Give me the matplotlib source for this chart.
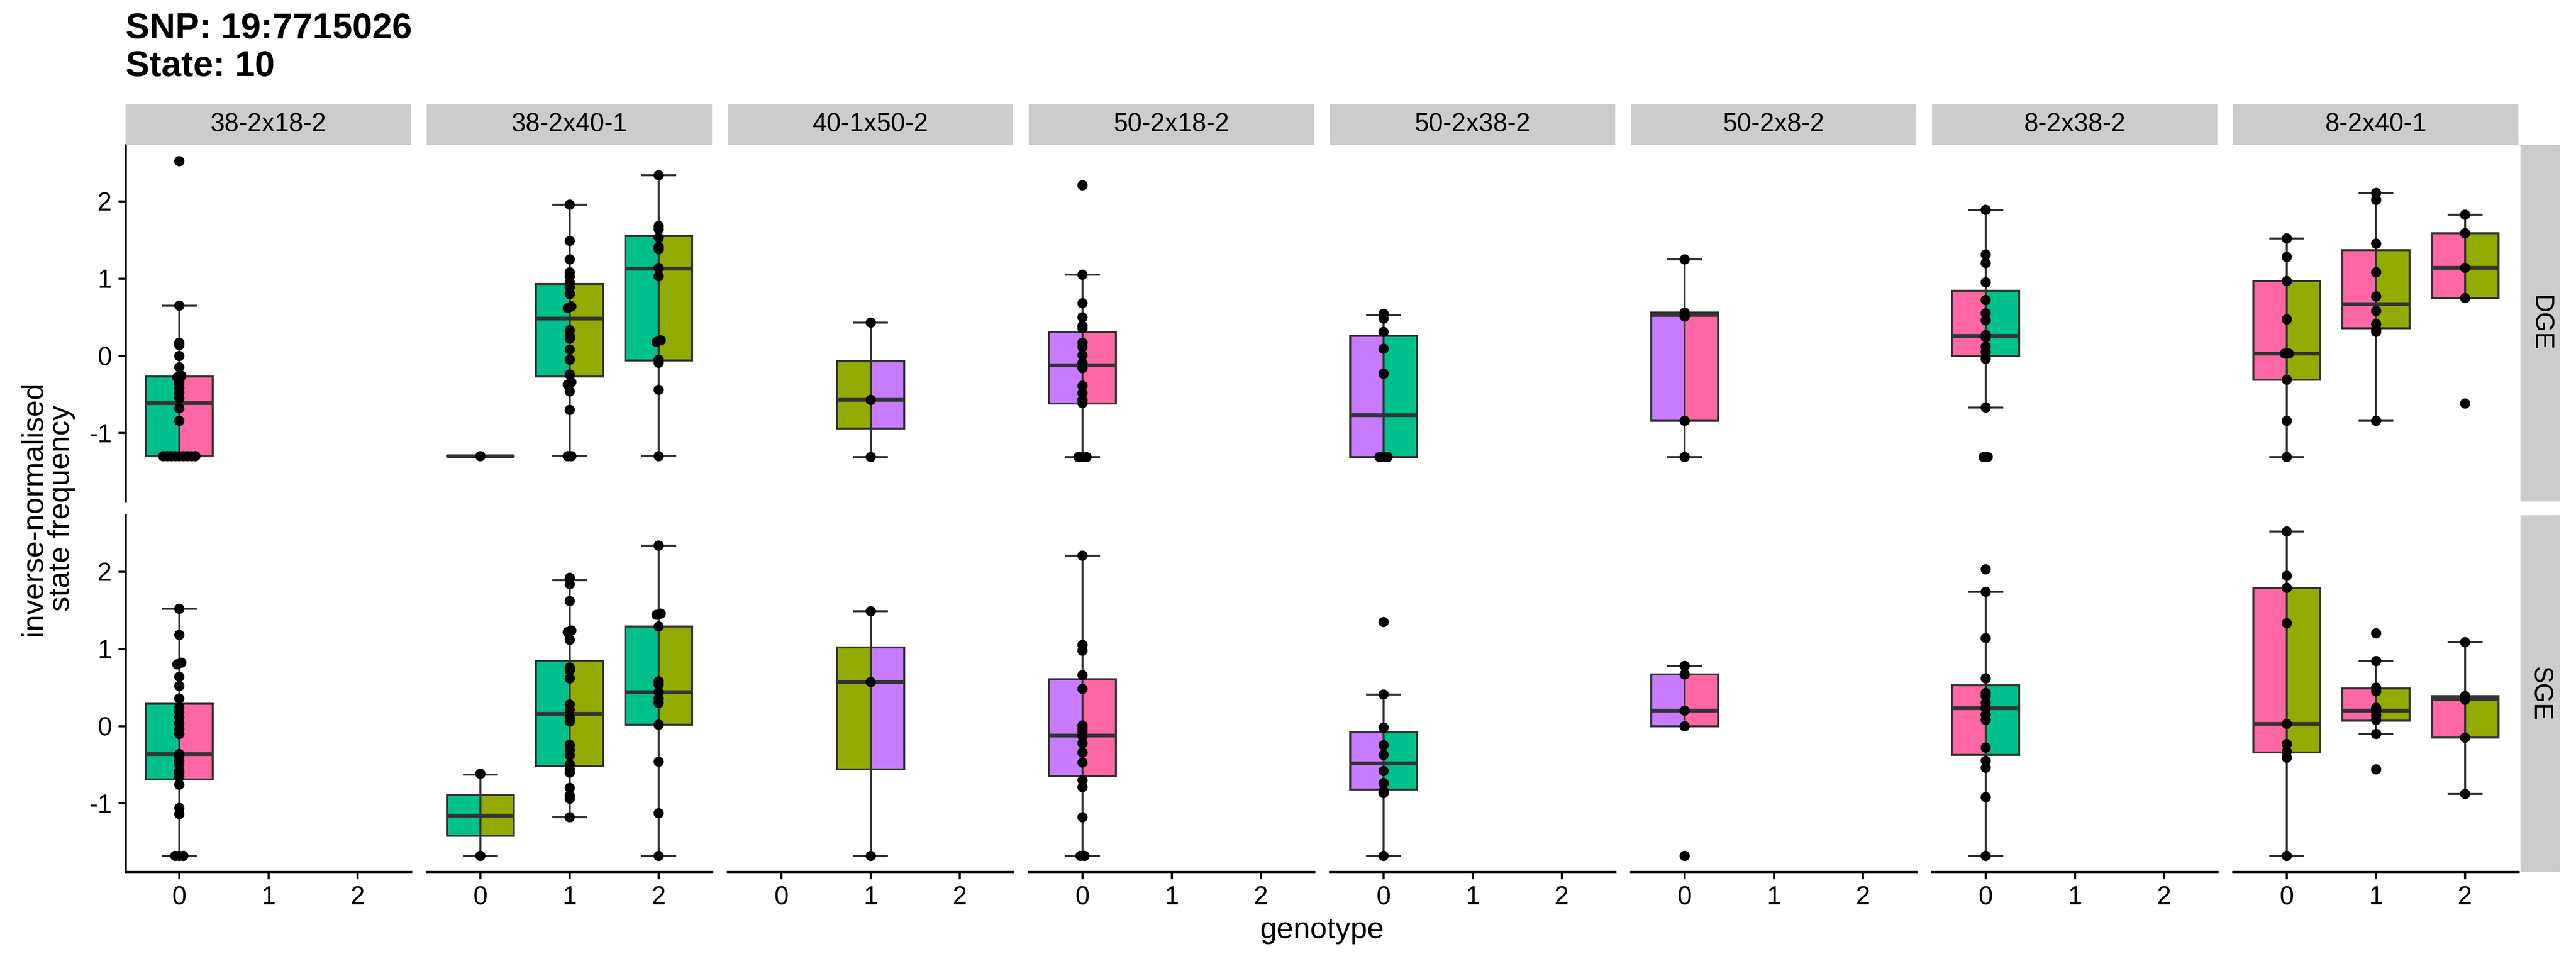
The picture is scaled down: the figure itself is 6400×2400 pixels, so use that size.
import matplotlib.pyplot as plt
import numpy as np

plt.rcParams['font.family'] = ['Liberation Sans', 'DejaVu Sans']

crosses = ["38-2x18-2", "38-2x40-1", "40-1x50-2", "50-2x18-2",
           "50-2x38-2", "50-2x8-2", "8-2x38-2", "8-2x40-1"]
rows = ["DGE", "SGE"]
genotypes = [0, 1, 2]

strain_colors = {"38-2": "#00C08B", "18-2": "#FF67A4", "40-1": "#93AA00",
                 "50-2": "#C77CFF", "8-2": "#FF67A4"}

# box stats per cross / genotype: (whisker low, q1, median, q3, whisker high)
dge_box = [
    [(-1.30, -1.30, -0.61, -0.27, 0.65), None, None],
    [(-1.30, -1.30, -1.30, -1.30, -1.30), (-1.30, -0.27, 0.48, 0.93, 1.96), (-1.30, -0.06, 1.13, 1.55, 2.34)],
    [None, (-1.31, -0.94, -0.57, -0.07, 0.43), None],
    [(-1.31, -0.62, -0.12, 0.31, 1.05), None, None],
    [(-1.31, -1.31, -0.77, 0.26, 0.53), None, None],
    [(-1.31, -0.84, 0.53, 0.56, 1.25), None, None],
    [(-0.67, 0.00, 0.26, 0.84, 1.89), None, None],
    [(-1.31, -0.31, 0.03, 0.97, 1.52), (-0.84, 0.36, 0.67, 1.37, 2.11), (0.75, 0.75, 1.14, 1.59, 1.83)],
]
sge_box = [
    [(-1.68, -0.69, -0.36, 0.29, 1.52), None, None],
    [(-1.68, -1.42, -1.16, -0.89, -0.63), (-1.18, -0.52, 0.16, 0.84, 1.89), (-1.68, 0.02, 0.44, 1.29, 2.34)],
    [None, (-1.68, -0.56, 0.57, 1.02, 1.49), None],
    [(-1.68, -0.65, -0.12, 0.61, 2.21), None, None],
    [(-1.68, -0.82, -0.48, -0.08, 0.41), None, None],
    [(0.00, 0.00, 0.20, 0.67, 0.78), None, None],
    [(-1.68, -0.37, 0.23, 0.53, 1.74), None, None],
    [(-1.68, -0.34, 0.03, 1.79, 2.52), (-0.10, 0.07, 0.20, 0.49, 0.84), (-0.88, -0.15, 0.35, 0.39, 1.09)],
]

# individual samples
dge_pts = [
    [[2.52, 0.65, 0.17, 0.14, 0.0, -0.15, -0.26, -0.28, -0.32, -0.36, -0.42, -0.48, -0.55,
      -0.68, -0.84, -1.30, -1.30, -1.30, -1.30, -1.30, -1.30, -1.30, -1.30, -1.30], [], []],
    [[-1.30],
     [1.96, 1.49, 1.25, 1.08, 1.03, 0.95, 0.89, 0.80, 0.64, 0.62, 0.33, 0.26, 0.22, 0.08,
      -0.05, -0.24, -0.34, -0.37, -0.46, -0.70, -1.30, -1.30],
     [2.34, 1.68, 1.64, 1.53, 1.41, 1.38, 1.14, 1.03, 0.20, 0.18, -0.05, -0.09, -0.44, -1.30]],
    [[], [0.43, -0.57, -1.31], []],
    [[2.21, 1.05, 0.68, 0.50, 0.39, 0.36, 0.17, 0.11, 0.01, -0.09, -0.16, -0.39, -0.48,
      -0.57, -0.61, -1.31, -1.31, -1.31], [], []],
    [[0.545, 0.48, 0.31, 0.09, -0.23, -1.31, -1.31, -1.31], [], []],
    [[1.25, 0.56, 0.51, -0.84, -1.31], [], []],
    [[1.89, 1.31, 1.20, 0.95, 0.72, 0.55, 0.46, 0.27, 0.24, 0.12, 0.05, -0.04, -0.67,
      -1.31, -1.31], [], []],
    [[1.52, 1.28, 0.97, 0.47, 0.03, 0.03, -0.31, -0.84, -1.31],
     [2.11, 2.02, 1.45, 1.08, 0.77, 0.58, 0.41, 0.34, 0.31, -0.84],
     [1.83, 1.59, 1.14, 0.75, -0.62]],
]
sge_pts = [
    [[1.52, 1.18, 0.82, 0.80, 0.64, 0.52, 0.36, 0.24, 0.18, 0.12, 0.04, -0.04, -0.10,
      -0.36, -0.40, -0.45, -0.50, -0.58, -0.62, -0.66, -0.76, -1.06, -1.14,
      -1.68, -1.68, -1.68], [], []],
    [[-0.62, -1.68],
     [1.92, 1.84, 1.62, 1.24, 1.22, 1.12, 0.76, 0.72, 0.62, 0.28, 0.21, 0.10, 0.06, -0.24,
      -0.31, -0.38, -0.50, -0.56, -0.60, -0.80, -0.90, -0.94, -1.18],
     [2.34, 1.46, 1.44, 1.29, 0.58, 0.54, 0.44, 0.36, 0.30, 0.02, -0.46, -1.13, -1.68]],
    [[], [1.49, 0.57, -1.68], []],
    [[2.21, 1.05, 0.98, 0.66, 0.48, 0.01, -0.03, -0.07, -0.13, -0.22, -0.34, -0.47, -0.70,
      -0.79, -1.18, -1.68, -1.68], [], []],
    [[1.35, 0.41, -0.02, -0.25, -0.37, -0.58, -0.74, -0.84, -0.87, -1.68], [], []],
    [[0.78, 0.67, 0.20, 0.0, -1.68], [], []],
    [[2.03, 1.74, 1.14, 0.62, 0.43, 0.39, 0.30, 0.23, 0.15, 0.08, -0.28, -0.45, -0.54,
      -0.92, -1.68], [], []],
    [[2.52, 1.95, 1.79, 1.33, 0.03, -0.23, -0.33, -0.41, -1.68],
     [1.20, 0.84, 0.50, 0.45, 0.24, 0.19, 0.14, 0.08, -0.10, -0.56],
     [1.09, 0.39, 0.34, -0.15, -0.88]],
]

W, H = 6400, 2400
EDGE = '#333333'


def swarm(vals, step=0.045, tol=0.03):
    # spread tied values sideways, a bit like a beeswarm
    vals = np.asarray(vals, float)
    order = np.argsort(vals)
    offs = np.zeros(len(vals))
    i = 0
    while i < len(order):
        j = i
        while j + 1 < len(order) and vals[order[j + 1]] - vals[order[i]] < tol:
            j += 1
        n = j - i + 1
        if n > 1:
            offs[order[i:j + 1]] = (np.arange(n) - (n - 1) / 2) * step
        i = j + 1
    return offs


def px_axes(fig, x0, y0, x1, y1):
    return fig.add_axes([x0 / W, 1 - y1 / H, (x1 - x0) / W, (y1 - y0) / H])


all_vals = [v for r in (dge_pts, sge_pts) for c in r for g in c for v in g]
lo, hi = min(all_vals), max(all_vals)
pad = 0.05 * (hi - lo)
ylim = (lo - pad, hi + pad)

fig = plt.figure(figsize=(16, 6), dpi=400)
fig.patch.set_facecolor('white')

panel_w, gap = 709, 39
x_start = 312
row_tops = [360, 1280]
panel_h = 886

for r, (boxes, pts) in enumerate([(dge_box, dge_pts), (sge_box, sge_pts)]):
    for c, cross in enumerate(crosses):
        x0 = x_start + c * (panel_w + gap)
        y0 = row_tops[r]
        ax = px_axes(fig, x0, y0, x0 + panel_w, y0 + panel_h)
        left_col, right_col = [strain_colors[s] for s in cross.split('x')]

        stats, pos = [], []
        for g in genotypes:
            b = boxes[c][g]
            if b is None:
                continue
            wl, q1, med, q3, wh = b
            ax.bar(g - 0.375, q3 - q1, width=0.375, bottom=q1, align='edge',
                   color=left_col, edgecolor=EDGE, linewidth=0.9, zorder=1)
            ax.bar(g, q3 - q1, width=0.375, bottom=q1, align='edge',
                   color=right_col, edgecolor=EDGE, linewidth=0.9, zorder=1)
            stats.append(dict(whislo=wl, q1=q1, med=med, q3=q3, whishi=wh, fliers=[]))
            pos.append(g)
        if stats:
            ax.bxp(stats, positions=pos, widths=0.75, capwidths=0.37, showfliers=False,
                   manage_ticks=False,
                   boxprops=dict(color=EDGE, linewidth=0.9),
                   whiskerprops=dict(color=EDGE, linewidth=0.9),
                   capprops=dict(color=EDGE, linewidth=0.9),
                   medianprops=dict(color=EDGE, linewidth=1.7, solid_capstyle='butt'))
        for g in genotypes:
            v = pts[c][g]
            if not v:
                continue
            ax.scatter(g + swarm(v), v, s=21, color='black', linewidths=0, zorder=3)

        ax.set_xlim(-0.6, 2.6)
        ax.set_ylim(*ylim)
        ax.set_xticks(genotypes)
        ax.set_xticklabels([str(g) for g in genotypes])
        ax.set_yticks([-1, 0, 1, 2])
        ax.set_yticklabels(['-1', '0', '1', '2'])
        for s in ['top', 'right']:
            ax.spines[s].set_visible(False)
        ax.spines['left'].set_visible(c == 0)
        ax.spines['bottom'].set_visible(r == 1)
        for s in ['left', 'bottom']:
            ax.spines[s].set_linewidth(0.95)
        ax.tick_params(length=3.2, width=0.95, labelsize=11.5, pad=3, colors='black')
        ax.tick_params(left=(c == 0), labelleft=(c == 0),
                       bottom=(r == 1), labelbottom=(r == 1))

        # top strips
        if r == 0:
            sax = px_axes(fig, x0, 259, x0 + panel_w, 360)
            sax.set_facecolor('#CCCCCC')
            sax.set_xticks([])
            sax.set_yticks([])
            for s in sax.spines.values():
                s.set_visible(False)
            sax.text(0.5, 0.5, cross, ha='center', va='center', fontsize=11.5,
                     transform=sax.transAxes)

    # right strips
    rax = px_axes(fig, 6262, row_tops[r], 6360, row_tops[r] + panel_h)
    rax.set_facecolor('#CCCCCC')
    rax.set_xticks([])
    rax.set_yticks([])
    for s in rax.spines.values():
        s.set_visible(False)
    rax.text(0.5, 0.5, rows[r], ha='center', va='center', rotation=-90,
             fontsize=11.5, transform=rax.transAxes)

fig.text(312 / W, 1 - 30 / H, "SNP: 19:7715026\nState: 10", ha='left', va='top',
         fontsize=16, fontweight='bold', linespacing=1.15)
fig.text(3285 / W, 1 - 2312 / H, "genotype", ha='center', va='center', fontsize=13.5)
fig.text(118 / W, 1 - 1263 / H, "inverse-normalised\nstate frequency", ha='center',
         va='center', rotation=90, fontsize=13.5, multialignment='center',
         linespacing=1.0)

fig.savefig('out.png', dpi=400)
